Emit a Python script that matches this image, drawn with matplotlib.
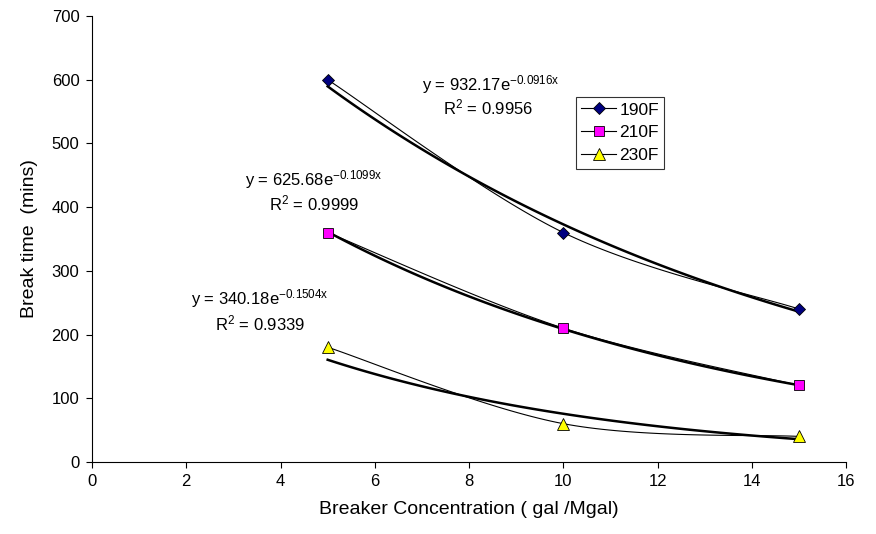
import numpy as np
import matplotlib
matplotlib.use('Agg')
import matplotlib.pyplot as plt

plt.rcParams['font.family'] = ['Liberation Sans', 'DejaVu Sans']
plt.rcParams['mathtext.default'] = 'regular'

conc = [5, 10, 15]
t190 = [600, 360, 240]
t210 = [360, 210, 120]
t230 = [180, 60, 40]

labels = ['190F', '210F', '230F']
eq_texts = [
    ('y = 932.17e$^{-0.0916x}$', 'R$^2$ = 0.9956'),
    ('y = 625.68e$^{-0.1099x}$', 'R$^2$ = 0.9999'),
    ('y = 340.18e$^{-0.1504x}$', 'R$^2$ = 0.9339'),
]


def smooth_curve(xs, ys, sx, sy, n=40):
    # Excel-style smoothed line (Bezier with Catmull-Rom tangents), in pixel-ish space
    p = np.column_stack([np.asarray(xs, float) * sx, np.asarray(ys, float) * sy])
    k = len(p)
    out = []
    t = np.linspace(0, 1, n)[:, None]
    for i in range(k - 1):
        p0 = p[max(i - 1, 0)]
        p1 = p[i]
        p2 = p[i + 1]
        p3 = p[min(i + 2, k - 1)]
        c1 = p1 + (p2 - p0) / 6
        c2 = p2 - (p3 - p1) / 6
        seg = ((1 - t) ** 3) * p1 + 3 * ((1 - t) ** 2) * t * c1 + 3 * (1 - t) * t ** 2 * c2 + t ** 3 * p2
        out.append(seg)
    out = np.vstack(out)
    return out[:, 0] / sx, out[:, 1] / sy


fig = plt.figure(figsize=(8.76, 5.34), dpi=100)
ax = fig.add_axes([0.105, 0.135, 0.861, 0.835])

sx = 754 / 16
sy = 446 / 700
series = [
    (t190, 'D', '#000080', 6),
    (t210, 's', '#FF00FF', 7),
    (t230, '^', '#FFFF00', 8),
]
xfit = np.linspace(5, 15, 100)
for (ys, mk, col, ms), lab in zip(series, labels):
    cx, cy = smooth_curve(conc, ys, sx, sy)
    ax.plot(cx, cy, color='black', lw=0.8, zorder=2)
    b, a = np.polyfit(conc, np.log(ys), 1)
    ax.plot(xfit, np.exp(a) * np.exp(b * xfit), color='black', lw=1.8, zorder=3)
    ax.plot(conc, ys, linestyle='none', marker=mk, markerfacecolor=col,
            markeredgecolor='black', markeredgewidth=0.6, markersize=ms, zorder=4)
    # legend proxy
    ax.plot([], [], color='black', lw=0.8, marker=mk, markerfacecolor=col,
            markeredgecolor='black', markeredgewidth=0.6, markersize=ms, label=lab)

eq_pos = [(8.45, 592, 8.4, 556), (4.71, 443, 4.71, 406), (3.55, 257, 3.57, 218)]
for (e, r), (ex, ey, rx, ry) in zip(eq_texts, eq_pos):
    ax.text(ex, ey, e, fontsize=12, ha='center', va='center')
    ax.text(rx, ry, r, fontsize=12, ha='center', va='center')

ax.set_xlim(0, 16)
ax.set_ylim(0, 700)
ax.set_xticks(range(0, 17, 2))
ax.set_yticks(range(0, 701, 100))
ax.tick_params(direction='out', length=4, width=0.8, labelsize=12, pad=5)
ax.spines['top'].set_visible(False)
ax.spines['right'].set_visible(False)
ax.set_xlabel('Breaker Concentration ( gal /Mgal)', fontsize=14, labelpad=8)
ax.set_ylabel('Break time  (mins)', fontsize=14, labelpad=10)

leg = ax.legend(loc='upper left', bbox_to_anchor=(0.642, 0.818), fontsize=12.5,
                frameon=True, fancybox=False, edgecolor='black', handlelength=2.0,
                borderpad=0.3, labelspacing=0.45, handletextpad=0.2, borderaxespad=0)
leg.get_frame().set_linewidth(0.8)

fig.savefig('out.png', dpi=100)
